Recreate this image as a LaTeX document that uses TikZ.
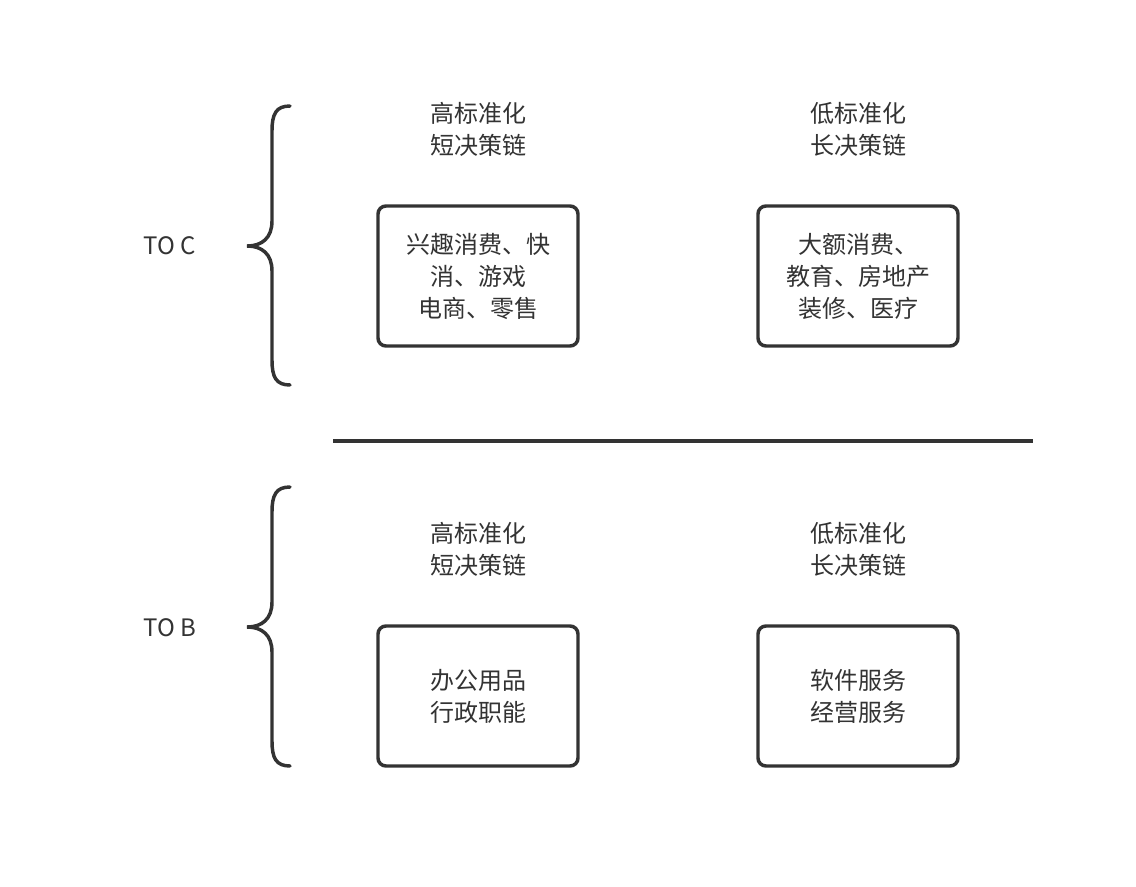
\documentclass[tikz,border=0pt]{standalone}
\usepackage{fontspec}
\setmainfont{Noto Sans CJK SC}
\begin{document}
\begin{tikzpicture}[x=0.75pt,y=-0.75pt,
  ln/.style={draw=black!80,line width=2.6pt},
  box/.style={ln,rounded corners=6pt,minimum width=150pt,minimum height=105pt,align=center,inner sep=0pt,font=\fontsize{18}{24}\selectfont,text=black!80},
  lbl/.style={align=center,font=\fontsize{18}{24}\selectfont,text=black!80}]
\useasboundingbox[fill=white] (0,0) rectangle (1136,886);
\node[lbl] (h1) at (478,129) {高标准化\\短决策链};
\node[lbl] (h2) at (858,129) {低标准化\\长决策链};
\node[lbl] (h3) at (478,549) {高标准化\\短决策链};
\node[lbl] (h4) at (858,549) {低标准化\\长决策链};
\node[box] (b1) at (478,276) {兴趣消费、快\\消、游戏\\电商、零售};
\node[box] (b2) at (858,276) {大额消费、\\教育、房地产\\装修、医疗};
\node[box] (b3) at (478,696) {办公用品\\行政职能};
\node[box] (b4) at (858,696) {软件服务\\经营服务};
\node[lbl] (tc) at (170,246) {TO C};
\node[lbl] (tb) at (170,628) {TO B};
\coordinate (d1) at (333,441); \coordinate (d2) at (1033,441);
\draw[ln] (d1) -- (d2);
\foreach \y in {106,487}{
\draw[ln,line cap=round] (290,\y) .. controls (276,\y) and (272,\y+8) .. (272,\y+25)
 -- (272,\y+115) .. controls (272,\y+132) and (262,\y+140) .. (247,\y+140)
 .. controls (262,\y+140) and (272,\y+148) .. (272,\y+165)
 -- (272,\y+254) .. controls (272,\y+271) and (276,\y+279) .. (290,\y+279);
}
\end{tikzpicture}
\end{document}
